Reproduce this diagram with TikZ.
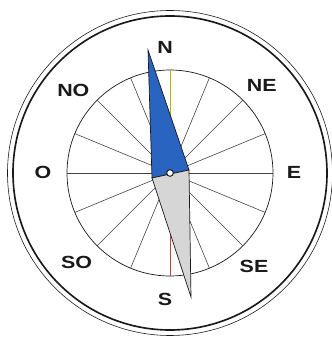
\documentclass[tikz,border=0pt]{standalone}
\usepackage{fontspec}
\setmainfont{Liberation Sans}
\usepackage{tikz}
\usetikzlibrary{calc}
\definecolor{ink}{gray}{0.10}
\definecolor{spoke}{gray}{0.25}
\definecolor{needleblue}{RGB}{40,100,192}
\definecolor{needlegray}{gray}{0.84}
\newcommand{\wind}[1]{\scalebox{1.22}[1]{#1}}

\begin{document}
\begin{tikzpicture}[line width=0.6pt,
    windlbl/.style={font=\bfseries\fontsize{15}{15}\selectfont, text=ink, inner sep=0pt}]
  \useasboundingbox (-5.1,-4.95) rectangle (4.83,5.19);
  \coordinate (ctr) at (0,0);
  % bezel
  \draw[ink, line width=0.5pt] (ctr) circle (4.875);
  \draw[ink, line width=1.4pt] (ctr) circle (4.71);
  % rose
  \draw[ink] (ctr) circle (3.09);
  \foreach \a in {0,22.5,...,337.5}{
    \draw[spoke, line width=0.5pt] (ctr) -- (\a:3.09);
  }
  \draw[olive!60!yellow, line width=0.5pt] (ctr) -- (90:3.09);
  \draw[red!45!gray, line width=0.5pt] (ctr) -- (270:3.09);
  % needle
  \coordinate (tipN) at (-0.66,3.69);
  \coordinate (rgt) at (0.57,0.09);
  \coordinate (lft) at (-0.54,-0.15);
  \coordinate (tipS) at (0.63,-3.72);
  \filldraw[fill=needleblue, draw=ink] (tipN) -- (rgt) -- (lft) -- cycle;
  \filldraw[fill=needlegray, draw=ink] (lft) -- (rgt) -- (tipS) -- cycle;
  \filldraw[fill=white, draw=ink, line width=0.8pt] (ctr) circle (0.1);
  % winds
  \node[windlbl] (n)  at (-0.15,3.78)  {\wind{N}};
  \node[windlbl] (ne) at (2.75,2.64)   {\wind{NE}};
  \node[windlbl] (e)  at (3.72,0.03)   {\wind{E}};
  \node[windlbl] (se) at (2.52,-2.79)  {\wind{SE}};
  \node[windlbl] (s)  at (-0.15,-3.8)  {\wind{S}};
  \node[windlbl] (so) at (-2.8,-2.69)  {\wind{SO}};
  \node[windlbl] (o)  at (-3.81,0.03)  {\wind{O}};
  \node[windlbl] (no) at (-2.9,2.48)   {\wind{NO}};
\end{tikzpicture}
\end{document}
